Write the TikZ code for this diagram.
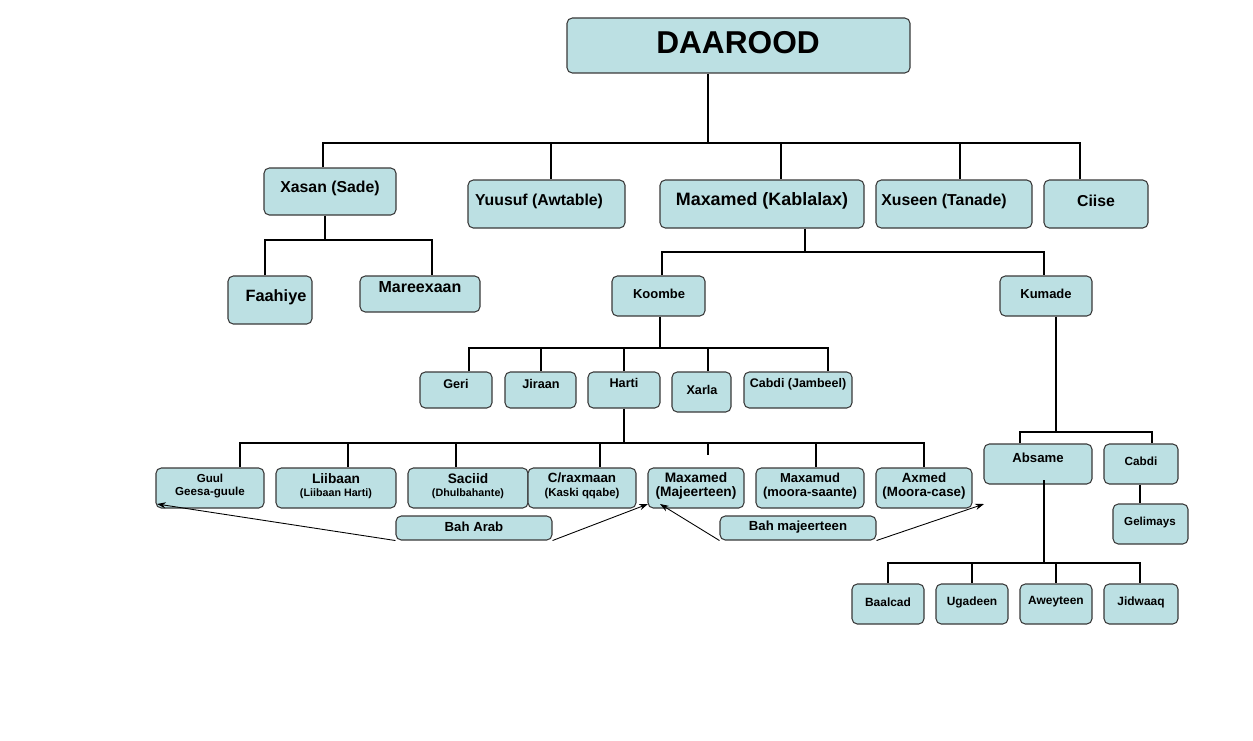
\documentclass[tikz,border=0pt]{standalone}
\usepackage{fontspec}
\setmainfont{Liberation Sans}
\usetikzlibrary{arrows.meta}
\definecolor{boxfill}{HTML}{BCE0E3}
\definecolor{boxline}{HTML}{3A3A3A}
\tikzset{
  box/.style={draw=boxline, line width=0.6pt, fill=boxfill, rounded corners=3pt, inner sep=0pt},
  conn/.style={line width=1.6pt, black, line join=miter},
  arr/.style={line width=0.5pt, black, -{Stealth[length=5pt,width=3.5pt]}},
  f/.style={font=\bfseries\fontsize{#1}{#1}\selectfont, inner sep=0pt, text=black},
  two/.style={align=center, inner sep=0pt, text=black, font=\bfseries\fontsize{7}{7.6}\selectfont}
}
\newcommand\mybox[5]{\node[box, minimum width={(#4-#2)*0.02cm}, minimum height={(#5-#3)*0.02cm}] (#1) at ({(#2+#4)/2},{(#3+#5)/2}) {};}
\begin{document}
\begin{tikzpicture}[x=0.02cm,y=-0.02cm]
\useasboundingbox[fill=white] (0,0) rectangle (1253,740);

% ---------- boxes ----------
\mybox{daarood}{567}{18}{910}{73}
\mybox{xasan}{264}{168}{396}{215}
\mybox{yuusuf}{468}{180}{625}{228}
\mybox{maxamed}{660}{180}{864}{228}
\mybox{xuseen}{876}{180}{1032}{228}
\mybox{ciise}{1044}{180}{1148}{228}
\mybox{faahiye}{228}{276}{312}{324}
\mybox{mareexaan}{360}{276}{480}{312}
\mybox{koombe}{612}{276}{705}{316}
\mybox{kumade}{1000}{276}{1092}{316}
\mybox{geri}{420}{372}{492}{408}
\mybox{jiraan}{505}{372}{576}{408}
\mybox{harti}{588}{372}{660}{408}
\mybox{xarla}{672}{372}{731}{412}
\mybox{cabdij}{744}{372}{852}{408}
\mybox{guul}{156}{468}{264}{508}
\mybox{liibaan}{276}{468}{396}{508}
\mybox{saciid}{408}{468}{528}{508}
\mybox{craxmaan}{528}{468}{636}{508}
\mybox{majeerteen}{648}{468}{744}{508}
\mybox{maxamud}{756}{468}{864}{508}
\mybox{axmed}{876}{468}{972}{508}
\mybox{baharab}{396}{516}{552}{540}
\mybox{bahmaj}{720}{516}{876}{540}
\mybox{absame}{984}{444}{1092}{484}
\mybox{cabdi}{1104}{444}{1178}{484}
\mybox{gelimays}{1113}{504}{1188}{544}
\mybox{baalcad}{852}{584}{924}{624}
\mybox{ugadeen}{936}{584}{1008}{624}
\mybox{aweyteen}{1020}{584}{1092}{624}
\mybox{jidwaaq}{1104}{584}{1178}{624}

% ---------- texts ----------
\node[f=18] (daaroodt) at (738,43) {DAAROOD};
\node[f=9] (xasant) at (330,188) {Xasan (Sade)};
\node[f=9] (yuusuft) at (539,201) {Yuusuf (Awtable)};
\node[f=10.2] (maxamedt) at (762,201) {Maxamed (Kablalax)};
\node[f=9] (xuseent) at (944,201) {Xuseen (Tanade)};
\node[f=9] (ciiset) at (1096,201) {Ciise};
\node[f=9.3] (faahiyet) at (276,297) {Faahiye};
\node[f=9.1] (mareexaant) at (420,287) {Mareexaan};
\node[f=7.4] (koombet) at (659,294) {Koombe};
\node[f=7.4] (kumadet) at (1046,294) {Kumade};
\node[f=7.2] (gerit) at (456,384) {Geri};
\node[f=7.2] (jiraant) at (541,384) {Jiraan};
\node[f=7.2] (hartit) at (624,383) {Harti};
\node[f=7.2] (xarlat) at (702,390) {Xarla};
\node[f=7.1] (cabdijt) at (798,384) {Cabdi (Jambeel)};
\node[two] (guult) at (210,486) {{\fontsize{6.6}{7}\selectfont Guul}\\{\fontsize{6.6}{7}\selectfont Geesa-guule}};
\node[two] (liibaant) at (336,486) {{\fontsize{7.8}{8}\selectfont Liibaan}\\{\fontsize{6.1}{7}\selectfont (Liibaan Harti)}};
\node[two] (saciidt) at (468,486) {{\fontsize{7.8}{8}\selectfont Saciid}\\{\fontsize{6.1}{7}\selectfont (Dhulbahante)}};
\node[two] (craxmaant) at (582,486) {{\fontsize{7.6}{8}\selectfont C/raxmaan}\\{\fontsize{6.5}{7}\selectfont (Kaski qqabe)}};
\node[two] (majeerteent) at (696,486) {{\fontsize{7.8}{8}\selectfont Maxamed}\\{\fontsize{7.8}{8}\selectfont (Majeerteen)}};
\node[two] (maxamudt) at (810,486) {{\fontsize{7.4}{8}\selectfont Maxamud}\\{\fontsize{7.4}{8}\selectfont (moora-saante)}};
\node[two] (axmedt) at (924,486) {{\fontsize{7.6}{8}\selectfont Axmed}\\{\fontsize{7.6}{8}\selectfont (Moora-case)}};
\node[f=7.5] (baharabt) at (474,527) {Bah Arab};
\node[f=7.5] (bahmajt) at (798,527) {Bah majeerteen};
\node[f=7.5] (absamet) at (1038,458) {Absame};
\node[f=6.7] (cabdit) at (1141,461) {Cabdi};
\node[f=6.6] (gelimayst) at (1150,522) {Gelimays};
\node[f=6.8] (baalcadt) at (888,602) {Baalcad};
\node[f=6.8] (ugadeent) at (972,602) {Ugadeen};
\node[f=6.8] (aweyteent) at (1056,602) {Aweyteen};
\node[f=6.8] (jidwaaqt) at (1141,602) {Jidwaaq};

% ---------- tree connectors ----------
% DAAROOD
\coordinate (j1) at (708,143);
\coordinate (c11) at (323,143);
\coordinate (c12) at (551,143);
\coordinate (c13) at (781,143);
\coordinate (c14) at (960,143);
\coordinate (c15) at (1080,143);
\draw[conn] (j1 |- daarood.south) -- (j1);
\draw[conn] (c11 |- xasan.north) -- (c11) -- (c15) -- (c15 |- ciise.north);
\draw[conn] (c12) -- (c12 |- yuusuf.north);
\draw[conn] (c13) -- (c13 |- maxamed.north);
\draw[conn] (c14) -- (c14 |- xuseen.north);
% Xasan
\coordinate (j2) at (325,240);
\coordinate (c21) at (265,240);
\coordinate (c22) at (432,240);
\draw[conn] (j2 |- xasan.south) -- (j2);
\draw[conn] (c21 |- faahiye.north) -- (c21) -- (c22) -- (c22 |- mareexaan.north);
% Maxamed
\coordinate (j3) at (805,252);
\coordinate (c31) at (662,252);
\coordinate (c32) at (1044,252);
\draw[conn] (j3 |- maxamed.south) -- (j3);
\draw[conn] (c31 |- koombe.north) -- (c31) -- (c32) -- (c32 |- kumade.north);
% Koombe
\coordinate (j4) at (660,348);
\coordinate (c41) at (469,348);
\coordinate (c42) at (541,348);
\coordinate (c43) at (624,348);
\coordinate (c44) at (708,348);
\coordinate (c45) at (828,348);
\draw[conn] (j4 |- koombe.south) -- (j4);
\draw[conn] (c41 |- geri.north) -- (c41) -- (c45) -- (c45 |- cabdij.north);
\draw[conn] (c42) -- (c42 |- jiraan.north);
\draw[conn] (c43) -- (c43 |- harti.north);
\draw[conn] (c44) -- (c44 |- xarla.north);
% Harti
\coordinate (j5) at (624,443);
\coordinate (c51) at (240,443);
\coordinate (c52) at (348,443);
\coordinate (c53) at (456,443);
\coordinate (c54) at (600,443);
\coordinate (c55) at (708,443);
\coordinate (c55e) at (708,455);
\coordinate (c56) at (816,443);
\coordinate (c57) at (924,443);
\draw[conn] (j5 |- harti.south) -- (j5);
\draw[conn] (c51 |- guul.north) -- (c51) -- (c57) -- (c57 |- axmed.north);
\draw[conn] (c52) -- (c52 |- liibaan.north);
\draw[conn] (c53) -- (c53 |- saciid.north);
\draw[conn] (c54) -- (c54 |- craxmaan.north);
\draw[conn] (c55) -- (c55e);
\draw[conn] (c56) -- (c56 |- maxamud.north);
% Kumade
\coordinate (j6) at (1056,432);
\coordinate (c61) at (1020,432);
\coordinate (c62) at (1152,432);
\draw[conn] (j6 |- kumade.south) -- (j6);
\draw[conn] (c61 |- absame.north) -- (c61) -- (c62) -- (c62 |- cabdi.north);
% Cabdi -> Gelimays
\coordinate (j7) at (1140,484);
\draw[conn] (j7 |- cabdi.south) -- (j7 |- gelimays.north);
% Absame
\coordinate (j8) at (1044,563);
\coordinate (j8s) at (1044,480);
\coordinate (c81) at (888,563);
\coordinate (c82) at (972,563);
\coordinate (c83) at (1056,563);
\coordinate (c84) at (1140,563);
\draw[conn] (j8s) -- (j8);
\draw[conn] (c81 |- baalcad.north) -- (c81) -- (c84) -- (c84 |- jidwaaq.north);
\draw[conn] (c82) -- (c82 |- ugadeen.north);
\draw[conn] (c83) -- (c83 |- aweyteen.north);

% ---------- arrows ----------
\coordinate (a1) at (157,504);
\coordinate (a2) at (648,504);
\coordinate (a3) at (660,504);
\coordinate (a4) at (984,504);
\draw[arr] (baharab.south west) -- (a1);
\draw[arr] (baharab.south east) -- (a2);
\draw[arr] (bahmaj.south west) -- (a3);
\draw[arr] (bahmaj.south east) -- (a4);
\end{tikzpicture}
\end{document}
